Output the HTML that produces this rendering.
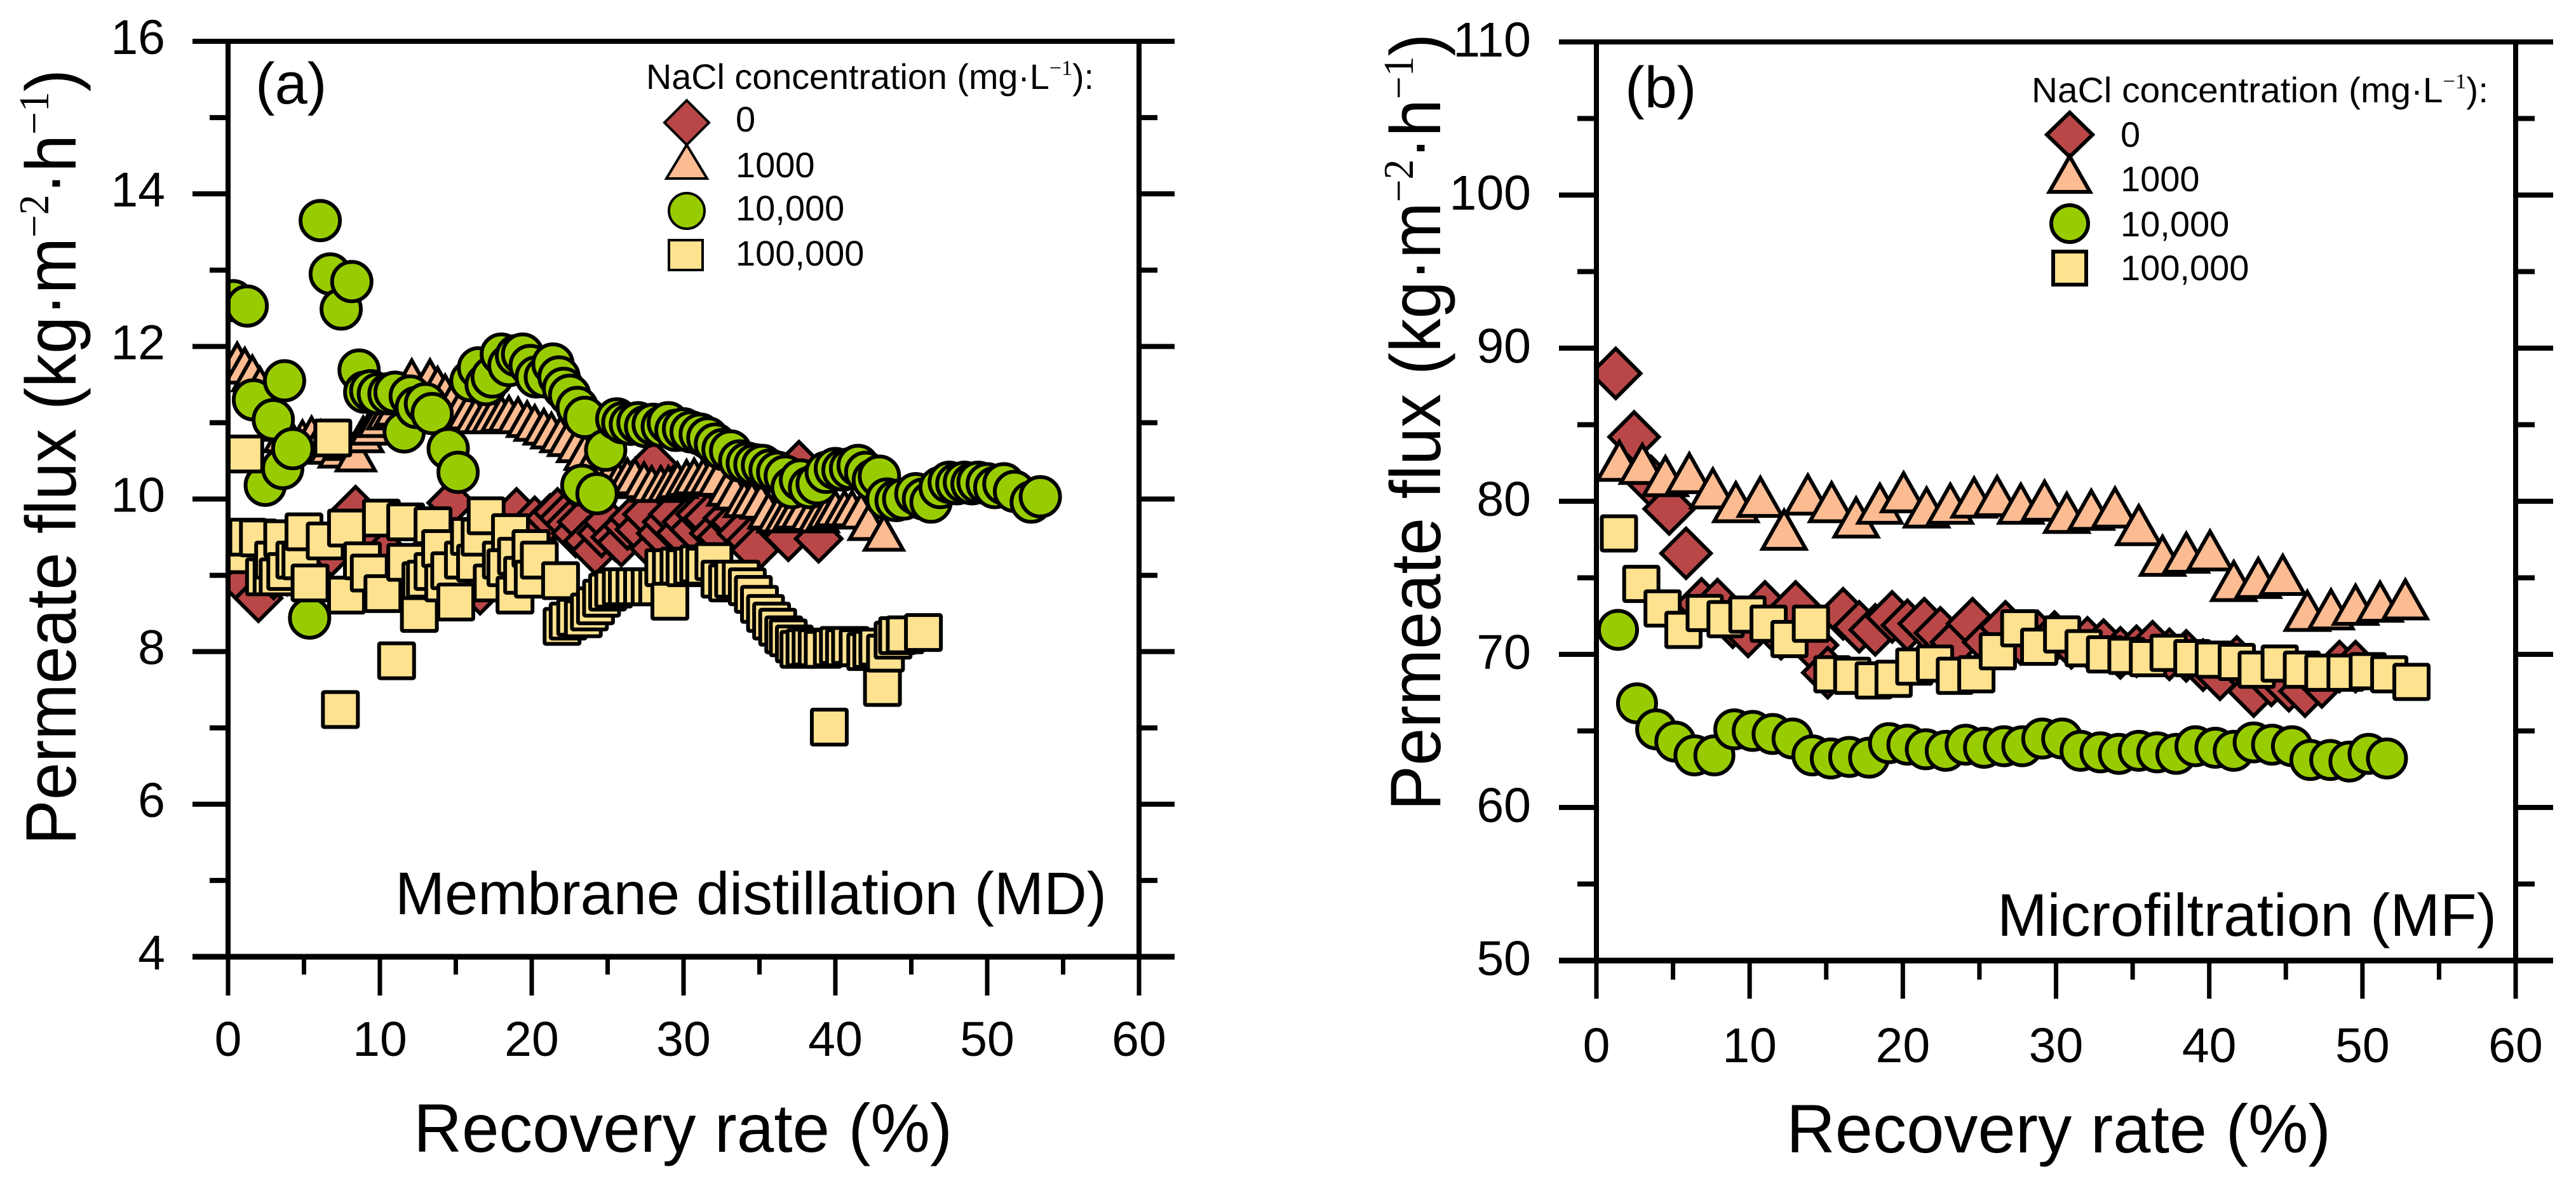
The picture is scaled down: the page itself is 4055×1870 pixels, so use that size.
<!DOCTYPE html>
<html lang="en">
<head>
<meta charset="utf-8">
<title>Permeate flux vs recovery rate</title>
<style>
html,body{margin:0;padding:0;background:#fff;}
svg{display:block;}
text{font-family:"Liberation Sans",sans-serif;fill:#000;}
.sup{font-family:"Liberation Serif",serif;}
</style>
</head>
<body>
<svg id="chart" xmlns="http://www.w3.org/2000/svg" width="4055" height="1870" viewBox="0 0 4055 1870">
<defs>
<clipPath id="clip-a"><rect x="359" y="65" width="1434" height="1441"/></clipPath>
<clipPath id="clip-b"><rect x="2513" y="66" width="1447" height="1446"/></clipPath>
</defs>
<g id="panel-a">
<g id="marks-a" clip-path="url(#clip-a)"></g>
<g id="axes-a"></g>
<text x="402" y="163" font-size="92">(a)</text>
<text x="622" y="1439" font-size="95" textLength="1120" lengthAdjust="spacingAndGlyphs">Membrane distillation (MD)</text>
<text x="651" y="1813" font-size="108" textLength="848" lengthAdjust="spacingAndGlyphs">Recovery rate (%)</text>
<text transform="translate(119,1330) rotate(-90)" font-size="112" textLength="1221" lengthAdjust="spacingAndGlyphs">Permeate flux (kg·m<tspan class="sup" font-size="67" dy="-43">−2</tspan><tspan dy="43">·h</tspan><tspan class="sup" font-size="67" dy="-43">−1</tspan><tspan dy="43">)</tspan></text>
<g>
<text x="1017" y="140" font-size="56" textLength="705" lengthAdjust="spacingAndGlyphs">NaCl concentration (mg·L<tspan class="sup" font-size="34" dy="-22">−1</tspan><tspan dy="22">):</tspan></text>
<path d="M1081 158L1116 193L1081 228L1046 193Z" fill="#b94747" stroke="#000" stroke-width="4"/>
<path d="M1081 228L1113 281L1049 281Z" fill="#fdbb92" stroke="#000" stroke-width="4"/>
<circle cx="1081" cy="332" r="28" fill="#99cc00" stroke="#000" stroke-width="4"/>
<rect x="1053" y="378" width="53" height="47" fill="#fee28f" stroke="#000" stroke-width="4"/>
<text x="1158" y="207" font-size="56">0</text>
<text x="1158" y="279" font-size="56">1000</text>
<text x="1158" y="347" font-size="56">10,000</text>
<text x="1158" y="418" font-size="56">100,000</text>
</g>
</g>
<g id="panel-b">
<g id="marks-b" clip-path="url(#clip-b)"></g>
<g id="axes-b"></g>
<text x="2558" y="169" font-size="92">(b)</text>
<text x="3144" y="1473" font-size="95" textLength="786" lengthAdjust="spacingAndGlyphs">Microfiltration (MF)</text>
<text x="2812" y="1814" font-size="108" textLength="857" lengthAdjust="spacingAndGlyphs">Recovery rate (%)</text>
<text transform="translate(2267,1276) rotate(-90)" font-size="112" textLength="1223" lengthAdjust="spacingAndGlyphs">Permeate flux (kg·m<tspan class="sup" font-size="67" dy="-43">−2</tspan><tspan dy="43">·h</tspan><tspan class="sup" font-size="67" dy="-43">−1</tspan><tspan dy="43">)</tspan></text>
<g>
<text x="3198" y="161" font-size="56" textLength="719" lengthAdjust="spacingAndGlyphs">NaCl concentration (mg·L<tspan class="sup" font-size="34" dy="-22">−1</tspan><tspan dy="22">):</tspan></text>
<path d="M3258 177L3294 212L3258 247L3222 212Z" fill="#b94747" stroke="#000" stroke-width="6"/>
<path d="M3258 246L3290 302L3226 302Z" fill="#fdbb92" stroke="#000" stroke-width="6"/>
<circle cx="3258" cy="352" r="29" fill="#99cc00" stroke="#000" stroke-width="6"/>
<rect x="3232" y="396" width="52" height="52" fill="#fee28f" stroke="#000" stroke-width="6"/>
<text x="3338" y="231" font-size="56">0</text>
<text x="3338" y="301" font-size="56">1000</text>
<text x="3338" y="372" font-size="56">10,000</text>
<text x="3338" y="441" font-size="56">100,000</text>
</g>
</g>
</svg>
<script>
var xTicks = [0, 10, 20, 30, 40, 50, 60];
var yTicksA = [4, 6, 8, 10, 12, 14, 16];
var yTicksB = [50, 60, 70, 80, 90, 100, 110];

var a0X = [0.4,1.0,2.0,3.0,3.9,4.9,5.8,6.8,7.7,8.4,9.5,10.4,11.3,12.3,13.2,14.0,14.7,15.1,15.7,16.6,17.6,18.6,19.0,19.7,20.2,20.7,21.2,21.7,22.1,22.5,22.9,23.3,23.7,24.2,24.6,25.0,25.5,25.9,26.3,26.7,27.1,27.6,28.0,28.07,28.5,28.9,29.3,29.8,30.2,30.7,31.1,31.6,32.0,32.5,32.9,33.4,33.8,34.4,34.7,36.0,36.9,37.6,38.9];
var a0Y = [9.35,8.9,8.7,9.0,9.05,8.9,9.1,9.3,9.5,9.86,9.45,9.3,9.0,8.9,9.3,9.6,9.95,8.77,9.2,8.8,9.3,9.4,9.83,9.6,9.72,9.6,9.75,9.83,9.75,9.67,9.55,9.7,9.45,9.32,9.55,9.7,9.5,9.43,9.65,9.75,9.6,9.8,10.46,9.35,9.55,9.7,9.8,9.55,9.7,9.6,9.8,9.75,9.55,9.5,9.75,9.7,9.55,9.45,9.33,9.75,9.5,10.45,9.48];

var a1X = [0.6,1.1,1.6,2.1,2.6,3.2,3.7,4.3,4.9,5.5,6.1,6.7,7.3,7.8,8.42,8.9,9.4,9.9,10.5,11.0,11.6,12.1,12.7,13.3,13.8,14.3,14.8,15.3,15.8,16.3,16.9,17.4,18.0,18.5,19.1,19.7,20.2,20.8,21.3,21.9,22.4,23.0,23.5,24.0,24.6,25.1,25.7,26.3,26.8,27.4,27.9,28.5,29.0,29.6,30.2,30.7,31.3,31.8,32.3,32.9,33.4,34.0,34.5,35.1,35.6,36.2,36.7,37.3,37.8,38.4,38.9,39.5,40.0,40.6,41.1,41.7,42.2,43.2];
var a1Y = [11.82,11.75,11.65,11.5,11.3,11.0,10.85,10.75,10.8,10.85,10.8,10.7,10.65,10.75,10.6,10.85,10.95,11.05,11.15,11.2,11.35,11.6,11.4,11.6,11.5,11.4,11.3,11.2,11.15,11.1,11.1,11.1,11.12,11.12,11.1,11.05,11.0,10.95,10.9,10.85,10.8,10.72,10.62,10.5,10.38,10.3,10.25,10.3,10.3,10.25,10.2,10.2,10.2,10.25,10.28,10.3,10.3,10.3,10.28,10.15,10.1,10.0,10.0,9.98,9.85,9.8,9.8,9.85,9.85,9.82,9.8,9.85,9.88,9.88,9.88,9.85,9.7,9.56];

var a2X = [0.33,1.26,1.67,2.45,2.98,3.6,3.72,4.26,5.37,6.07,6.73,7.45,8.15,8.63,9.0,9.4,9.9,10.6,11.0,11.6,12.0,12.4,13.0,13.44,14.5,15.15,16.0,16.5,17.0,17.4,18.0,18.5,19.0,19.4,19.9,20.3,20.9,21.4,21.8,22.1,22.5,23.0,23.5,23.3,24.3,24.87,25.6,26.0,26.5,27.0,27.5,28.0,28.6,29.0,29.5,30.0,30.5,31.1,31.6,32.1,32.6,33.1,33.7,34.2,34.7,35.2,35.7,36.2,36.7,37.15,37.7,38.3,38.8,39.4,40.0,40.5,41.0,41.5,42.0,42.5,42.9,43.4,44.0,44.5,45.3,45.8,46.3,46.9,47.5,48.0,48.5,49.0,49.4,50.0,50.5,51.1,51.8,52.9,53.5];
var a2Y = [12.6,12.53,11.3,10.18,11.04,10.4,11.55,10.66,8.44,13.65,12.95,12.49,12.85,11.69,11.4,11.42,11.38,11.38,11.4,10.88,11.35,11.2,11.25,11.12,10.66,10.35,11.55,11.72,11.5,11.6,11.9,11.75,11.88,11.9,11.75,11.6,11.6,11.77,11.6,11.45,11.36,11.2,11.07,10.18,10.07,10.64,11.05,11.0,10.98,11.0,10.95,10.98,10.95,11.0,10.9,10.92,10.88,10.85,10.8,10.72,10.65,10.63,10.5,10.47,10.45,10.44,10.38,10.35,10.3,10.15,10.25,10.15,10.2,10.35,10.4,10.38,10.4,10.44,10.35,10.25,10.3,10.0,9.98,10.0,10.07,10.0,9.96,10.15,10.22,10.2,10.22,10.2,10.22,10.2,10.15,10.2,10.1,9.96,10.03];

var a3X = [1.1,1.05,1.3,2.0,2.4,2.9,3.0,3.3,3.6,3.8,4.4,4.8,5.0,5.4,6.4,6.9,7.4,7.8,7.8,8.85,9.3,10.1,10.2,11.1,11.7,11.7,12.6,12.7,13.0,13.5,13.5,14.0,14.2,14.6,15.0,15.5,15.9,16.3,16.6,17.0,17.4,18.0,18.3,18.6,18.9,19.0,19.4,19.95,20.1,20.5,21.9,22.0,22.4,22.9,23.4,23.8,24.2,24.6,25.0,25.4,25.9,26.3,26.8,27.3,27.8,28.3,28.7,29.2,29.1,29.7,30.1,30.6,31.0,31.4,32.0,32.4,32.9,33.3,33.8,34.2,34.6,35.0,35.4,35.8,36.2,36.6,36.9,37.3,37.6,38.0,38.4,38.8,39.2,39.6,39.8,40.2,40.6,41.0,41.5,42.0,42.4,42.8,43.1,43.3,43.8,44.1,44.6,45.8];
var a3Y = [10.59,9.27,9.5,9.49,8.98,8.98,9.2,8.98,9.48,9.05,9.2,9.19,9.57,8.9,9.45,10.8,7.24,9.62,8.74,9.19,9.03,9.75,8.76,7.88,9.7,9.17,8.5,8.93,8.95,9.65,9.05,9.35,8.9,9.06,8.65,9.2,9.51,9.16,9.5,9.78,8.9,9.2,9.1,9.56,8.74,9.25,9.0,9.35,8.95,9.2,8.93,8.33,8.4,8.45,8.43,8.52,8.6,8.7,8.78,8.82,8.85,8.85,8.85,8.85,8.85,8.85,9.1,9.1,8.66,9.12,9.1,9.12,9.15,9.12,9.18,8.95,8.9,8.95,8.95,8.85,8.75,8.62,8.5,8.4,8.32,8.22,8.18,8.1,8.03,8.05,8.06,8.05,8.03,7.01,8.05,8.08,8.05,8.08,8.05,8.0,8.03,8.06,7.53,7.98,8.15,8.21,8.22,8.25];

var b0X = [1.26,2.46,3.56,4.75,5.85,6.86,7.9,8.9,9.9,11.0,12.05,13.0,14.1,15.1,16.1,17.15,18.2,19.3,20.3,21.4,22.45,23.5,24.55,25.6,26.7,27.7,28.8,29.9,31.0,32.05,33.1,34.2,35.25,36.3,37.4,38.5,39.6,40.7,41.8,42.9,44.05,45.2,46.25,47.35,48.5,49.55];
var b0Y = [88.35,84.2,81.3,79.5,76.6,73.3,73.25,72.1,71.5,73.1,71.35,73.1,70.6,68.8,72.65,71.8,71.6,72.45,71.9,72.0,71.4,70.8,72.0,70.8,71.8,71.0,71.17,71.13,70.75,70.75,70.6,70.1,70.2,70.5,70.0,69.9,69.3,68.7,69.5,67.6,68.3,67.95,67.6,68.2,69.2,69.2];

var b1X = [1.5,3.0,4.5,6.06,7.6,9.1,10.7,12.25,13.8,15.35,16.95,18.5,20.05,21.55,23.1,24.65,26.15,27.7,29.25,30.7,32.3,33.85,35.4,36.95,38.5,40.05,41.6,43.2,44.8,46.4,47.95,49.55,51.15,52.8];
var b1Y = [82.7,82.5,81.7,81.9,80.9,80.0,80.35,78.2,80.5,80.0,79.0,79.9,80.65,79.65,79.9,80.3,80.4,79.9,80.1,79.3,79.5,79.65,78.5,76.5,76.7,76.85,74.85,75.05,75.25,72.9,73.0,73.3,73.5,73.65];

var b2X = [1.41,2.65,3.9,5.15,6.4,7.7,9.0,10.2,11.5,12.8,14.1,15.3,16.5,17.8,19.1,20.3,21.5,22.8,24.1,25.3,26.6,27.8,29.1,30.4,31.6,32.9,34.1,35.4,36.6,37.85,39.1,40.4,41.6,42.9,44.1,45.4,46.6,47.9,49.15,50.4,51.6];
var b2Y = [71.6,66.8,65.1,64.3,63.4,63.4,65.1,65.0,64.8,64.5,63.4,63.2,63.3,63.25,64.2,64.1,63.8,63.7,64.1,63.9,64.0,64.0,64.5,64.5,63.7,63.6,63.5,63.7,63.6,63.5,64.0,63.9,63.7,64.25,64.1,64.0,63.1,63.1,63.0,63.5,63.2];

var b3X = [1.47,2.93,4.32,5.68,7.07,8.43,9.86,11.24,12.6,14.0,15.4,16.7,18.1,19.4,20.75,22.1,23.4,24.8,26.2,27.6,28.9,30.4,31.8,33.2,34.6,36.0,37.35,38.9,40.3,41.8,43.1,44.6,46.05,47.45,48.9,50.35,51.75,53.2];
var b3Y = [77.9,74.6,73.0,71.6,72.7,72.3,72.6,72.0,71.0,72.0,68.7,68.6,68.3,68.4,69.2,69.4,68.6,68.7,70.2,71.7,70.5,71.3,70.4,70.0,69.9,69.75,70.1,69.75,69.65,69.5,69.0,69.4,69.0,68.8,68.8,68.9,68.7,68.2];

var NS = 'http://www.w3.org/2000/svg';

function scale(d0, d1, p0, p1) {
  return function (v) { return p0 + (v - d0) * (p1 - p0) / (d1 - d0); };
}

function drawLine(parent, x1, y1, x2, y2, w, name) {
  var l = document.createElementNS(NS, 'line');
  l.setAttribute('x1', x1);
  l.setAttribute('y1', y1);
  l.setAttribute('x2', x2);
  l.setAttribute('y2', y2);
  l.setAttribute('stroke', '#000');
  l.setAttribute('stroke-width', w);
  
  
  parent.appendChild(l);
}

function drawLabel(parent, x, y, str, anchor, name) {
  var t = document.createElementNS(NS, 'text');
  t.setAttribute('x', x);
  t.setAttribute('y', y);
  t.setAttribute('font-size', '77');
  t.setAttribute('text-anchor', anchor);
  
  
  t.textContent = str;
  parent.appendChild(t);
}

function drawAxes(g, X, Y, yTicks, o) {
  var xs = X(0), xe = X(60), yb = Y(yTicks[0]), yt = Y(yTicks[yTicks.length - 1]);
  drawLine(g, xs, yt, xs, yb, 8, 'y-axis-left');
  drawLine(g, xe, yt, xe, yb, 8, 'y-axis-right');
  drawLine(g, xs - o.major, yt, xe + o.major, yt, 8, 'top-axis-line');
  drawLine(g, xs - o.major, yb, xe + o.major, yb, 9, 'x-axis');
  xTicks.forEach(function (v, i) {
    drawLine(g, X(v), yb, X(v), yb + o.xMajor, 7, 'x-tick-major');
    drawLabel(g, X(v), o.xLabelY, String(v), 'middle', 'x-tick-label');
    if (i < xTicks.length - 1) {
      var m = (v + xTicks[i + 1]) / 2;
      drawLine(g, X(m), yb, X(m), yb + o.xMinor, 7, 'x-tick-minor');
    }
  });
  yTicks.forEach(function (v, i) {
    if (i > 0 && i < yTicks.length - 1) {
      drawLine(g, xs - o.major, Y(v), xs, Y(v), 8, 'y-tick-major-left');
      drawLine(g, xe, Y(v), xe + o.major, Y(v), 8, 'y-tick-major-right');
    }
    drawLabel(g, o.yLabelX, Y(v) + o.yLabelDy, String(v), 'end', 'y-tick-label');
    if (i < yTicks.length - 1) {
      var m = (v + yTicks[i + 1]) / 2;
      drawLine(g, xs - o.minor, Y(m), xs, Y(m), 8, 'y-tick-minor-left');
      drawLine(g, xe, Y(m), xe + o.minor, Y(m), 8, 'y-tick-minor-right');
    }
  });
}

function markerNode(kind, px, py, s) {
  var el;
  if (kind === 'circle') {
    el = document.createElementNS(NS, 'circle');
    el.setAttribute('cx', px);
    el.setAttribute('cy', py);
    el.setAttribute('r', s.r);
  } else if (kind === 'square') {
    el = document.createElementNS(NS, 'rect');
    el.setAttribute('x', px - s.side / 2);
    el.setAttribute('y', py - s.side / 2);
    el.setAttribute('width', s.side);
    el.setAttribute('height', s.side);
    el.setAttribute('rx', 2);
  } else if (kind === 'diamond') {
    el = document.createElementNS(NS, 'path');
    el.setAttribute('d', 'M' + px + ' ' + (py - s.d) + 'L' + (px + s.d) + ' ' + py + 'L' + px + ' ' + (py + s.d) + 'L' + (px - s.d) + ' ' + py + 'Z');
  } else {
    el = document.createElementNS(NS, 'path');
    el.setAttribute('d', 'M' + px + ' ' + (py - s.up) + 'L' + (px + s.w) + ' ' + (py + s.down) + 'L' + (px - s.w) + ' ' + (py + s.down) + 'Z');
  }
  return el;
}

function drawSeries(parent, xs, ys, X, Y, kind, fill, s, label) {
  var g = document.createElementNS(NS, 'g');
  
  
  g.setAttribute('fill', fill);
  g.setAttribute('stroke', '#000');
  g.setAttribute('stroke-width', '6');
  xs.forEach(function (v, i) {
    var el = markerNode(kind, X(v), Y(ys[i]), s);
    
    
    g.appendChild(el);
  });
  parent.appendChild(g);
}

var XA = scale(0, 60, 359, 1793);
var YA = scale(4, 16, 1506, 65);
var XB = scale(0, 60, 2513, 3960);
var YB = scale(50, 110, 1512, 66);

var sizeA = { d: 36, w: 30, up: 26, down: 27, r: 31, side: 55 };
var sizeB = { d: 39, w: 34, up: 28.5, down: 31.5, r: 30, side: 54 };

var marksA = document.getElementById('marks-a');
var marksB = document.getElementById('marks-b');

drawSeries(marksA, a0X, a0Y, XA, YA, 'diamond', '#b94747', sizeA, 'md-series-0');
drawSeries(marksA, a1X, a1Y, XA, YA, 'triangle', '#fdbb92', sizeA, 'md-series-1000');
drawSeries(marksA, a2X, a2Y, XA, YA, 'circle', '#99cc00', sizeA, 'md-series-10000');
drawSeries(marksA, a3X, a3Y, XA, YA, 'square', '#fee28f', sizeA, 'md-series-100000');

drawSeries(marksB, b0X, b0Y, XB, YB, 'diamond', '#b94747', sizeB, 'mf-series-0');
drawSeries(marksB, b1X, b1Y, XB, YB, 'triangle', '#fdbb92', sizeB, 'mf-series-1000');
drawSeries(marksB, b2X, b2Y, XB, YB, 'circle', '#99cc00', sizeB, 'mf-series-10000');
drawSeries(marksB, b3X, b3Y, XB, YB, 'square', '#fee28f', sizeB, 'mf-series-100000');

drawAxes(document.getElementById('axes-a'), XA, YA, yTicksA, { major: 56, minor: 29, xMajor: 61, xMinor: 28, xLabelY: 1662, yLabelX: 260, yLabelDy: 20 });
drawAxes(document.getElementById('axes-b'), XB, YB, yTicksB, { major: 59, minor: 30, xMajor: 60, xMinor: 30, xLabelY: 1672, yLabelX: 2410, yLabelDy: 23 });
</script>
</body>
</html>
